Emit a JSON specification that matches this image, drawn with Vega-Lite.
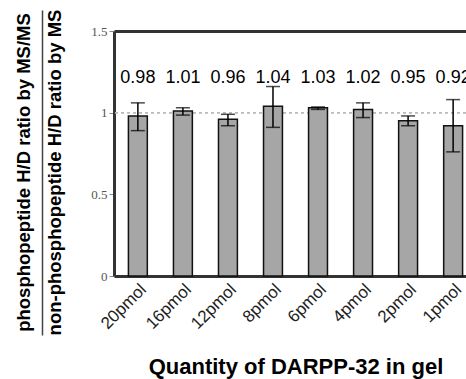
{
  "$schema": "https://vega.github.io/schema/vega-lite/v6.json",
  "autosize": {"type": "none"},
  "padding": {"left": 114, "top": 31, "right": 0, "bottom": 103},
  "width": 352,
  "height": 245,
  "background": "white",
  "config": {"view": {"stroke": null}, "font": "Liberation Sans"},
  "data": {
    "values": [
      {"q": "20pmol", "ratio": 0.98, "lo": 0.89, "hi": 1.06},
      {"q": "16pmol", "ratio": 1.01, "lo": 0.985, "hi": 1.03},
      {"q": "12pmol", "ratio": 0.96, "lo": 0.92, "hi": 0.99},
      {"q": "8pmol", "ratio": 1.04, "lo": 0.91, "hi": 1.16},
      {"q": "6pmol", "ratio": 1.03, "lo": 1.02, "hi": 1.035},
      {"q": "4pmol", "ratio": 1.02, "lo": 0.97, "hi": 1.06},
      {"q": "2pmol", "ratio": 0.95, "lo": 0.92, "hi": 0.98},
      {"q": "1pmol", "ratio": 0.92, "lo": 0.76, "hi": 1.08}
    ]
  },
  "resolve": {"scale": {"y": "independent"}, "axis": {"x": "independent", "y": "independent"}},
  "layer": [
    {
      "layer": [
        {
          "mark": {"type": "rule", "stroke": "#bbbbbb", "strokeDash": [3, 3], "strokeWidth": 1},
          "encoding": {"y": {"datum": 1, "type": "quantitative", "scale": {"domain": [0, 1.5], "nice": false}, "title": "non-phosphopeptide H/D ratio by MS"}}
        },
        {
          "mark": {"type": "bar", "fill": "#a6a6a6", "stroke": "#111111", "strokeWidth": 1.5},
          "encoding": {
            "x": {
              "field": "q", "type": "nominal", "sort": null,
              "scale": {"range": [0, 363], "paddingInner": 0.58, "paddingOuter": 0.32},
              "axis": {
                "orient": "bottom", "labelAngle": -45, "labelFont": "Liberation Sans", "labelFontSize": 17,
                "labelColor": "#222222", "ticks": false, "labelPadding": 5,
                "domainColor": "#333333", "domainWidth": 3,
                "title": "Quantity of DARPP-32 in gel", "titleFont": "Liberation Sans", "titleFontSize": 22,
                "titleFontWeight": "bold", "titleColor": "#000000", "titlePadding": 25
              }
            },
            "y": {
              "field": "ratio", "type": "quantitative",
              "scale": {"domain": [0, 1.5], "nice": false},
              "title": "non-phosphopeptide H/D ratio by MS",
              "axis": {
                "orient": "left", "values": [0, 0.5, 1, 1.5], "format": "~g",
                "labelFont": "Liberation Serif", "labelFontSize": 13, "labelColor": "#555555",
                "tickColor": "#888888", "tickSize": 5, "labelPadding": 2,
                "domainColor": "#333333", "domainWidth": 3, "grid": false,
                "titleFont": "Liberation Sans",
                "titleFontSize": 18.5, "titleFontWeight": "bold", "titleColor": "#000000",
                "titlePadding": 26, "titleY": 141
              }
            }
          }
        },
        {
          "mark": {"type": "errorbar", "ticks": {"size": 14, "thickness": 1.5, "color": "#000000"}, "rule": {"strokeWidth": 1.5, "color": "#000000"}},
          "encoding": {
            "x": {"field": "q", "type": "nominal", "sort": null},
            "y": {"field": "lo", "type": "quantitative", "scale": {"domain": [0, 1.5], "nice": false}, "title": "non-phosphopeptide H/D ratio by MS"},
            "y2": {"field": "hi"}
          }
        },
        {
          "mark": {"type": "text", "fontSize": 18, "font": "Liberation Sans", "color": "#000000"},
          "encoding": {
            "x": {"field": "q", "type": "nominal", "sort": null},
            "y": {"datum": 1.21, "type": "quantitative", "scale": {"domain": [0, 1.5], "nice": false}, "title": "non-phosphopeptide H/D ratio by MS"},
            "text": {"field": "ratio", "type": "quantitative", "format": ".2f"}
          }
        }
      ]
    },
    {
      "mark": {"type": "point", "opacity": 0},
      "encoding": {
        "x": {
          "field": "q", "type": "nominal", "sort": null,
          "axis": {"orient": "top", "labels": false, "ticks": false, "domain": true, "domainWidth": 3, "domainColor": "#333333", "title": null}
        },
        "y": {
          "field": "ratio", "type": "quantitative",
          "scale": {"domain": [0, 1.5], "nice": false, "range": [304, -21]},
          "axis": {
            "orient": "left", "offset": 72, "labels": true, "labelExpr": "''", "labelPadding": 0,
            "ticks": true, "tickSize": 0, "tickOpacity": 0, "grid": false,
            "domain": true, "domainColor": "#444444", "domainWidth": 1.5,
            "title": "phosphopeptide H/D ratio by MS/MS", "titleFont": "Liberation Sans",
            "titleFontSize": 18.5, "titleFontWeight": "bold", "titleColor": "#000000",
            "titlePadding": 9, "titleY": 141
          }
        }
      }
    }
  ]
}
